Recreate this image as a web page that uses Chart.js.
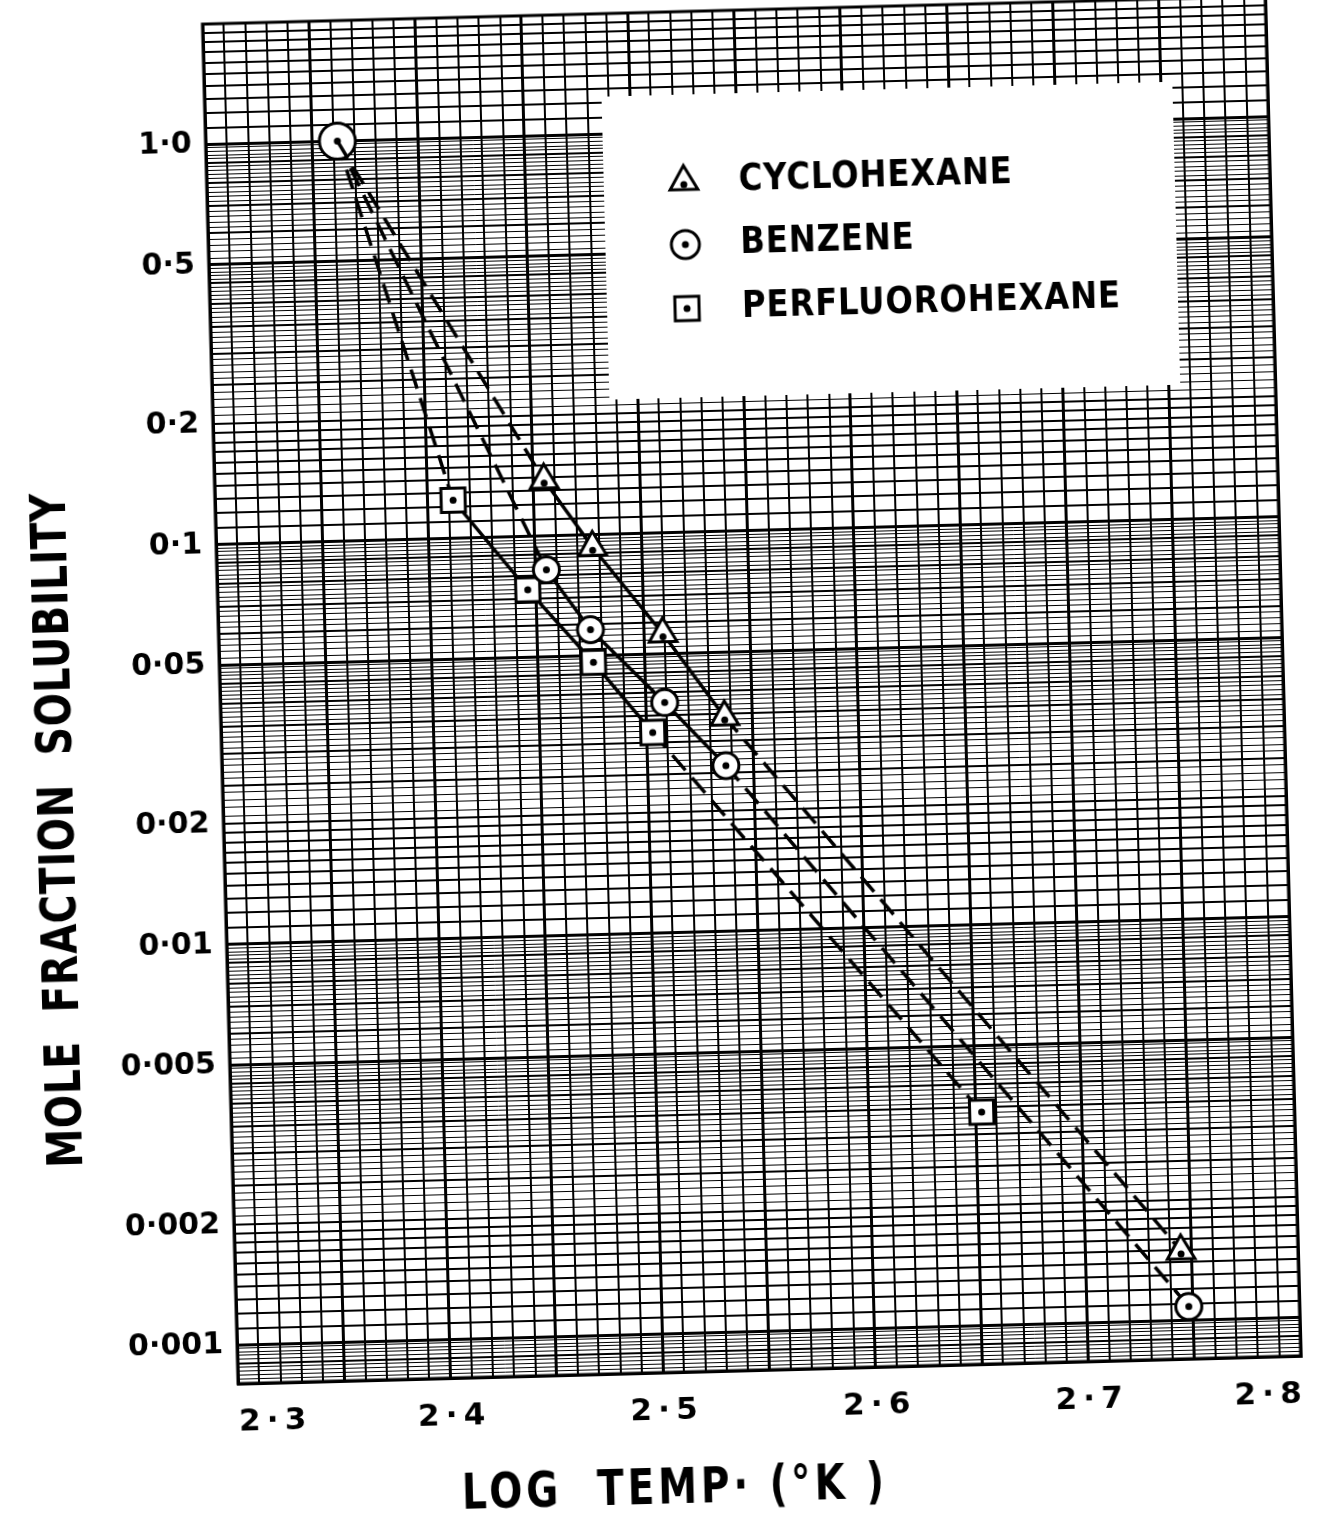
<!DOCTYPE html>
<html>
<head>
<meta charset="utf-8">
<title>Mole fraction solubility vs log temperature</title>
<script src="https://cdn.jsdelivr.net/npm/chart.js@4.4.1/dist/chart.umd.min.js"></script>
<style>
  html, body { margin: 0; padding: 0; background: #fff; overflow: hidden; }
  #wrap { position: relative; width: 1327px; height: 1514px; }
  /* the original sheet sits slightly skewed on the scan */
  #chart { position: absolute; left: 0; top: 0; transform: rotate(-1.5deg); transform-origin: 751px 687px; }
</style>
</head>
<body>
<div id="wrap"><canvas id="chart" width="1327" height="1514"></canvas></div>
<script>
// values: log10 T (K) against mole fraction solubility
const cyclohexaneLogT = [2.362, 2.455, 2.477, 2.509, 2.537, 2.745];
const cyclohexaneSol  = [1.0, 0.138, 0.093, 0.056, 0.0344, 0.00149];
const benzeneLogT     = [2.362, 2.455, 2.475, 2.509, 2.537, 2.748];
const benzeneSol      = [1.0, 0.0824, 0.058, 0.0377, 0.026, 0.00108];
const perfluoroLogT   = [2.362, 2.412, 2.446, 2.476, 2.503, 2.653];
const perfluoroSol    = [1.0, 0.1246, 0.0736, 0.048, 0.0318, 0.00341];

const seriesNames = ['CYCLOHEXANE', 'BENZENE', 'PERFLUOROHEXANE'];

const xTickValues = [2.3, 2.4, 2.5, 2.6, 2.7, 2.8];
const xTickLabels = ['2\u2009·\u20093', '2\u2009·\u20094', '2\u2009·\u20095', '2\u2009·\u20096', '2\u2009·\u20097', '2\u2009·\u20098'];
const yTickValues = [1, 0.5, 0.2, 0.1, 0.05, 0.02, 0.01, 0.005, 0.002, 0.001];
const yTickLabels = ['1·0', '0·5', '0·2', '0·1', '0·05', '0·02', '0·01', '0·005', '0·002', '0·001'];

const xTitle = 'LOG  TEMP· (°K )';
const yTitle = 'MOLE  FRACTION  SOLUBILITY';

const X_MIN = 2.3, X_MAX = 2.8;
const Y_MIN = 0.0008, Y_MAX = 2.0;
const FONT = '"DejaVu Sans", sans-serif';

// rulings of the log graph paper (one cycle runs from 0.5 to 5 x 10^k)
function buildPaperLines() {
    const lines = [];
    for (let k = -4; k <= 0; k++) {
        const base = 0.5 * Math.pow(10, k);
        for (let i = 0; i < 25; i++) lines.push({ value: base * (1 + i * 0.04), w: i === 0 ? 3 : (i % 5 === 0 ? 2 : 1) });
        for (let i = 0; i < 10; i++) lines.push({ value: base * (2 + i * 0.2), w: i === 0 ? 3 : 2 });
        for (let i = 0; i < 30; i++) lines.push({ value: base * (4 + i * 0.2), w: i % 5 === 0 ? 2 : 1 });
    }
    return lines
        .filter(l => l.value >= Y_MIN * 0.999 && l.value <= Y_MAX * 1.001)
        .sort((a, b) => a.value - b.value);
}
const paperLines = buildPaperLines();

function yLabel(v) {
    const i = yTickValues.findIndex(t => Math.abs(Math.log10(v / t)) < 1e-6);
    return i >= 0 ? yTickLabels[i] : '';
}

function xLabel(v) {
    const i = xTickValues.findIndex(t => Math.abs(v - t) < 1e-6);
    return i >= 0 ? xTickLabels[i] : '';
}

function toPoints(xs, ys) {
    return xs.map((x, i) => ({ x: x, y: ys[i] }));
}

// first and last legs are dashed extrapolations, middle legs are solid
function legDash(ctx) {
    const last = ctx.chart.data.datasets[ctx.datasetIndex].data.length - 1;
    return (ctx.p0DataIndex === 0 || ctx.p1DataIndex === last) ? [20, 10] : undefined;
}

function series(label, xs, ys, style, size, firstSize) {
    return {
        label: label,
        data: toPoints(xs, ys),
        showLine: true,
        borderColor: '#000',
        borderWidth: 3.5,
        pointStyle: style,
        pointRadius: ctx => ctx.dataIndex === 0 ? firstSize : size,
        pointBackgroundColor: '#fff',
        pointBorderColor: '#000',
        pointBorderWidth: 3,
        segment: { borderDash: legDash }
    };
}

// keep the plot box exactly where the sheet has it
function noScalePadding(scale) {
    scale.paddingTop = 0;
    scale.paddingBottom = 0;
    scale.paddingLeft = 0;
    scale.paddingRight = 0;
}

const paperPlugin = {
    id: 'paper',
    beforeDraw(chart) {
        chart.ctx.letterSpacing = '0px';
    },
    beforeDatasetsDraw(chart) {
        const ctx = chart.ctx;
        const a = chart.chartArea;
        ctx.save();
        ctx.strokeStyle = '#000';
        ctx.lineWidth = 3;
        ctx.strokeRect(a.left, a.top, a.right - a.left, a.bottom - a.top);

        // legend card pasted on the sheet
        const bx = 617, by = 93, bw = 571, bh = 303;
        ctx.fillStyle = '#fff';
        ctx.fillRect(bx, by, bw, bh);
        const rows = [180, 243, 307];
        const sizes = [16, 14, 17];
        chart.data.datasets.forEach((ds, i) => {
            ctx.fillStyle = '#fff';
            ctx.strokeStyle = '#000';
            ctx.lineWidth = 3;
            Chart.helpers.drawPoint(ctx, { pointStyle: ds.pointStyle, radius: sizes[i], borderWidth: 3, rotation: 0 }, 697, rows[i]);
            ctx.fillStyle = '#000';
            ctx.beginPath();
            ctx.arc(697, rows[i] + (ds.pointStyle === 'triangle' ? 3 : 0), 3.5, 0, Math.PI * 2);
            ctx.fill();
            ctx.save();
            ctx.translate(752, rows[i]);
            ctx.scale(0.85, 1);
            ctx.font = 'bold 38px ' + FONT;
            ctx.textAlign = 'left';
            ctx.textBaseline = 'middle';
            ctx.letterSpacing = '1px';
            ctx.fillText(ds.label, 0, 0);
            ctx.restore();
        });
        ctx.restore();
    },
    afterDatasetsDraw(chart) {
        // dot in the middle of every plotted symbol
        const ctx = chart.ctx;
        ctx.save();
        ctx.fillStyle = '#000';
        chart.data.datasets.forEach((ds, i) => {
            chart.getDatasetMeta(i).data.forEach(el => {
                if (!el.options || el.options.radius <= 0) return;
                const dy = ds.pointStyle === 'triangle' ? 3 : 0;
                ctx.beginPath();
                ctx.arc(el.x, el.y + dy, 3.5, 0, Math.PI * 2);
                ctx.fill();
            });
        });
        ctx.restore();
    },
    afterDraw(chart) {
        const ctx = chart.ctx;
        const a = chart.chartArea;
        ctx.save();
        ctx.fillStyle = '#000';
        ctx.font = 'bold 50px ' + FONT;
        ctx.textAlign = 'center';
        ctx.textBaseline = 'middle';

        ctx.save();
        ctx.translate(a.left - 163, a.top + 802);
        ctx.rotate(-Math.PI / 2);
        ctx.scale(0.78, 1);
        ctx.letterSpacing = '1px';
        ctx.fillText(yTitle, 0, 0);
        ctx.restore();

        ctx.save();
        ctx.translate(654, a.bottom + 118);
        ctx.scale(0.78, 1);
        ctx.letterSpacing = '5px';
        ctx.fillText(xTitle, 0, 0);
        ctx.restore();

        ctx.restore();
    }
};

new Chart(document.getElementById('chart'), {
    type: 'scatter',
    data: {
        datasets: [
            series(seriesNames[0], cyclohexaneLogT, cyclohexaneSol, 'triangle', 16, 0),
            series(seriesNames[1], benzeneLogT, benzeneSol, 'circle', 13, 18),
            series(seriesNames[2], perfluoroLogT, perfluoroSol, 'rect', 17, 0)
        ]
    },
    options: {
        responsive: false,
        animation: false,
        devicePixelRatio: 1,
        layout: { autoPadding: false, padding: { top: 10, right: 44, bottom: 0, left: 0 } },
        plugins: {
            legend: { display: false },
            tooltip: { enabled: false }
        },
        scales: {
            x: {
                type: 'linear',
                min: X_MIN,
                max: X_MAX,
                afterBuildTicks: scale => {
                    const n = Math.round((X_MAX - X_MIN) / 0.01);
                    scale.ticks = Array.from({ length: n + 1 }, (_, i) => ({ value: +(X_MIN + i * 0.01).toFixed(2) }));
                },
                afterFit: scale => { scale.height = 144; noScalePadding(scale); },
                grid: {
                    color: '#000',
                    lineWidth: ctx => ctx.index % 5 === 0 ? 3 : 2,
                    drawTicks: false
                },
                border: { display: true, color: '#000', width: 3 },
                ticks: {
                    autoSkip: false,
                    maxRotation: 0,
                    align: 'inner',
                    padding: 20,
                    color: '#000',
                    font: { family: FONT, size: 31, weight: 'bold' },
                    callback: value => xLabel(value)
                }
            },
            y: {
                type: 'logarithmic',
                min: Y_MIN,
                max: Y_MAX,
                afterBuildTicks: scale => {
                    scale.ticks = paperLines.map(l => ({ value: l.value }));
                },
                afterFit: scale => { scale.width = 220; noScalePadding(scale); },
                grid: {
                    color: '#000',
                    lineWidth: ctx => (paperLines[ctx.index] ? paperLines[ctx.index].w : 1),
                    drawTicks: false
                },
                border: { display: true, color: '#000', width: 3 },
                ticks: {
                    autoSkip: false,
                    padding: 14,
                    color: '#000',
                    font: { family: FONT, size: 30, weight: 'bold' },
                    callback: value => yLabel(value)
                }
            }
        }
    },
    plugins: [paperPlugin]
});
</script>
</body>
</html>
